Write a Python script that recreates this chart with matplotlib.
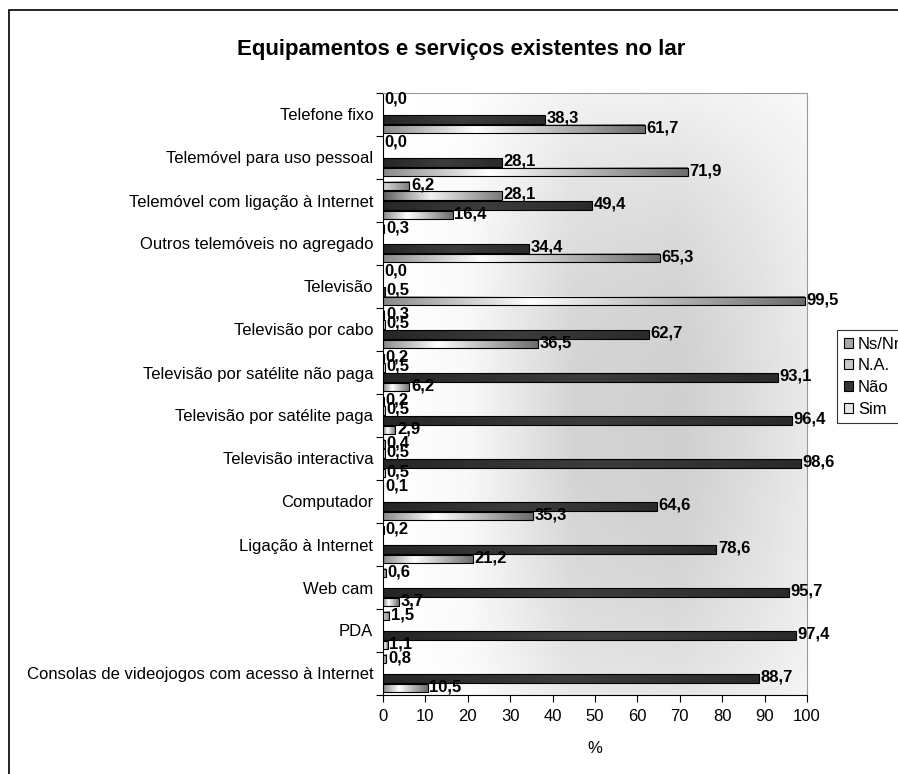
import numpy as np
import matplotlib
matplotlib.use("Agg")
import matplotlib.pyplot as plt
from matplotlib.colors import LinearSegmentedColormap
from matplotlib.patches import Rectangle

plt.rcParams['font.family'] = ['Liberation Sans', 'DejaVu Sans']
plt.rcParams['font.size'] = 12

categorias = [
    "Telefone fixo",
    "Telemóvel para uso pessoal",
    "Telemóvel com ligação à Internet",
    "Outros telemóveis no agregado",
    "Televisão",
    "Televisão por cabo",
    "Televisão por satélite não paga",
    "Televisão por satélite paga",
    "Televisão interactiva",
    "Computador",
    "Ligação à Internet",
    "Web cam",
    "PDA",
    "Consolas de videojogos com acesso à Internet",
]

# None = sem valor na série
ns_nr = [0.0, 0.0, 6.2, 0.3, 0.0, 0.3, 0.2, 0.2, 0.4, 0.1, 0.2, 0.6, 1.5, 0.8]
na    = [None, None, 28.1, None, None, 0.5, 0.5, 0.5, 0.5, None, None, None, None, None]
nao   = [38.3, 28.1, 49.4, 34.4, 0.5, 62.7, 93.1, 96.4, 98.6, 64.6, 78.6, 95.7, 97.4, 88.7]
sim   = [61.7, 71.9, 16.4, 65.3, 99.5, 36.5, 6.2, 2.9, 0.5, 35.3, 21.2, 3.7, 1.1, 10.5]

series = [("Ns/Nr", ns_nr), ("N.A.", na), ("Não", nao), ("Sim", sim)]

cmaps = {
    "Ns/Nr": LinearSegmentedColormap.from_list("nsnr", [(0, "#dcdcdc"), (0.25, "#c4c4c4"), (1, "#7c7c7c")]),
    "N.A.": LinearSegmentedColormap.from_list("na", [(0, "#5e5e5e"), (0.4, "#f2f2f2"), (1, "#777777")]),
    "Não": LinearSegmentedColormap.from_list("nao", [(0, "#262626"), (0.5, "#3c3c3c"), (1, "#2a2a2a")]),
    "Sim": LinearSegmentedColormap.from_list("sim", [(0, "#8a8a8a"), (0.35, "#ffffff"), (1, "#6c6c6c")]),
}
legend_face = {"Ns/Nr": "#a8a8a8", "N.A.": "#c8c8c8", "Não": "#333333", "Sim": "#e6e6e6"}

n = len(categorias)
step = 0.2256
bar_h = 0.205
offsets = [-1.5 * step, -0.5 * step, 0.5 * step, 1.5 * step]

fig = plt.figure(figsize=(8.98, 7.74), dpi=100)
ax = fig.add_axes([383 / 898, 1 - 695 / 774, (807 - 383) / 898, (695 - 93) / 774])

# fundo da área do gráfico
gx = np.linspace(0, 1, 300)
gy = np.linspace(0, 1, 300)
X, Y = np.meshgrid(gx, gy)
dx = np.interp(X, [0, 0.2, 0.45, 0.7, 0.85, 1.0], [0.0, 0.15, 0.9, 1.0, 0.75, 0.45])
dy = 0.3 + 0.7 * np.clip(1 - ((Y - 0.55) / 0.55) ** 2, 0, 1)
bg = 1 - 0.19 * dx * dy
ax.imshow(bg, extent=(0, 100, n, 0), aspect='auto', cmap='gray', vmin=0, vmax=1,
          zorder=0, interpolation='bilinear')

grad = np.linspace(0, 1, 256).reshape(1, -1)
for k, (name, vals) in enumerate(series):
    for i, v in enumerate(vals):
        if v is None:
            continue
        yc = i + 0.5 + offsets[k]
        if v > 0:
            ax.imshow(grad, extent=(0, v, yc + bar_h / 2, yc - bar_h / 2), aspect='auto',
                      cmap=cmaps[name], zorder=2, interpolation='bilinear')
            ax.add_patch(Rectangle((0, yc - bar_h / 2), v, bar_h, fill=False,
                                   edgecolor='black', linewidth=0.8, zorder=3))
        ax.text(v + 0.4, yc - 0.03, f"{v:.1f}".replace('.', ','), ha='left', va='center',
                fontsize=12, fontweight='bold', zorder=4)

ax.set_xlim(0, 100)
ax.set_ylim(n, 0)
ax.set_xticks(np.arange(0, 101, 10))
ax.set_yticks(np.arange(0, n + 1))
ax.set_yticklabels([])
ax.set_yticks(np.arange(n) + 0.5, minor=True)
ax.set_yticklabels(categorias, minor=True)
ax.tick_params(axis='y', which='minor', length=0, pad=7)
ax.tick_params(axis='y', which='major', length=5, width=0.8)
ax.tick_params(axis='x', length=5, width=0.8, pad=5)
ax.set_xlabel("%", labelpad=12)
for side in ['top', 'right']:
    ax.spines[side].set_color('#9a9a9a')
for side in ['left', 'bottom']:
    ax.spines[side].set_color('black')

fig.text(461 / 898, 1 - 50 / 774, "Equipamentos e serviços existentes no lar",
         ha='center', va='center', fontsize=16, fontweight='bold')

# moldura exterior
fig.patches.append(Rectangle((9 / 898, -0.1), 1.2, 1 - 10 / 774 + 0.1, transform=fig.transFigure,
                             fill=False, edgecolor='black', linewidth=1.2))

handles = [Rectangle((0, 0), 1, 1, facecolor=legend_face[name], edgecolor='black', linewidth=0.8)
           for name, _ in series]
leg = fig.legend(handles, [name for name, _ in series], loc='upper left',
                 bbox_to_anchor=(837 / 898, 1 - 330 / 774), frameon=True, fancybox=False,
                 handlelength=0.55, handleheight=0.55, handletextpad=0.3, labelspacing=0.4,
                 borderpad=0.4, fontsize=12, borderaxespad=0)
leg.get_frame().set_edgecolor('black')
leg.get_frame().set_linewidth(0.8)

fig.savefig("out.png", dpi=100)
